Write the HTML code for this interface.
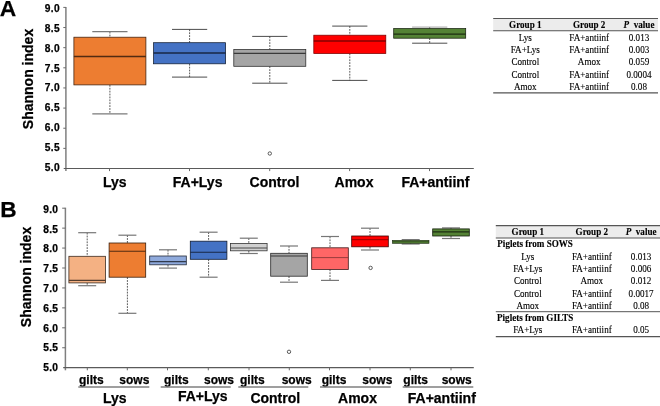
<!DOCTYPE html>
<html lang="en"><head><meta charset="utf-8"><title>Shannon index boxplots</title>
<style>
html,body{margin:0;padding:0;background:#fff;}
body{width:660px;height:406px;overflow:hidden;}
svg{display:block;}
text{white-space:pre;}
</style></head><body>
<svg width="660" height="406" viewBox="0 0 660 406">
<rect width="660" height="406" fill="#fff"/>
<line x1="65.9" y1="6.9" x2="65.9" y2="171.1" stroke="#7f7f7f" stroke-width="1.5"/>
<line x1="63.7" y1="168.5" x2="473.8" y2="168.5" stroke="#5a5a5a" stroke-width="1.2"/>
<line x1="63.3" y1="7.4" x2="65.9" y2="7.4" stroke="#6a6a6a" stroke-width="1"/>
<text x="59.9" y="11.9" font-family='"Liberation Sans", Arial, sans-serif' font-size="10.2" font-weight="bold" text-anchor="end" fill="#000" stroke="#000" stroke-width="0.25" letter-spacing="0.3">9.0</text>
<line x1="63.3" y1="27.54" x2="65.9" y2="27.54" stroke="#6a6a6a" stroke-width="1"/>
<text x="59.9" y="31.79" font-family='"Liberation Sans", Arial, sans-serif' font-size="10.2" font-weight="bold" text-anchor="end" fill="#000" stroke="#000" stroke-width="0.25" letter-spacing="0.3">8.5</text>
<line x1="63.3" y1="47.67" x2="65.9" y2="47.67" stroke="#6a6a6a" stroke-width="1"/>
<text x="59.9" y="51.69" font-family='"Liberation Sans", Arial, sans-serif' font-size="10.2" font-weight="bold" text-anchor="end" fill="#000" stroke="#000" stroke-width="0.25" letter-spacing="0.3">8.0</text>
<line x1="63.3" y1="67.81" x2="65.9" y2="67.81" stroke="#6a6a6a" stroke-width="1"/>
<text x="59.9" y="71.58" font-family='"Liberation Sans", Arial, sans-serif' font-size="10.2" font-weight="bold" text-anchor="end" fill="#000" stroke="#000" stroke-width="0.25" letter-spacing="0.3">7.5</text>
<line x1="63.3" y1="87.95" x2="65.9" y2="87.95" stroke="#6a6a6a" stroke-width="1"/>
<text x="59.9" y="91.47" font-family='"Liberation Sans", Arial, sans-serif' font-size="10.2" font-weight="bold" text-anchor="end" fill="#000" stroke="#000" stroke-width="0.25" letter-spacing="0.3">7.0</text>
<line x1="63.3" y1="108.09" x2="65.9" y2="108.09" stroke="#6a6a6a" stroke-width="1"/>
<text x="59.9" y="111.37" font-family='"Liberation Sans", Arial, sans-serif' font-size="10.2" font-weight="bold" text-anchor="end" fill="#000" stroke="#000" stroke-width="0.25" letter-spacing="0.3">6.5</text>
<line x1="63.3" y1="128.22" x2="65.9" y2="128.22" stroke="#6a6a6a" stroke-width="1"/>
<text x="59.9" y="131.26" font-family='"Liberation Sans", Arial, sans-serif' font-size="10.2" font-weight="bold" text-anchor="end" fill="#000" stroke="#000" stroke-width="0.25" letter-spacing="0.3">6.0</text>
<line x1="63.3" y1="148.36" x2="65.9" y2="148.36" stroke="#6a6a6a" stroke-width="1"/>
<text x="59.9" y="151.16" font-family='"Liberation Sans", Arial, sans-serif' font-size="10.2" font-weight="bold" text-anchor="end" fill="#000" stroke="#000" stroke-width="0.25" letter-spacing="0.3">5.5</text>
<text x="59.9" y="171.05" font-family='"Liberation Sans", Arial, sans-serif' font-size="10.2" font-weight="bold" text-anchor="end" fill="#000" stroke="#000" stroke-width="0.25" letter-spacing="0.3">5.0</text>
<line x1="109.5" y1="168.5" x2="109.5" y2="171.1" stroke="#6a6a6a" stroke-width="1"/>
<line x1="189.5" y1="168.5" x2="189.5" y2="171.1" stroke="#6a6a6a" stroke-width="1"/>
<line x1="269.7" y1="168.5" x2="269.7" y2="171.1" stroke="#6a6a6a" stroke-width="1"/>
<line x1="349.6" y1="168.5" x2="349.6" y2="171.1" stroke="#6a6a6a" stroke-width="1"/>
<line x1="429.5" y1="168.5" x2="429.5" y2="171.1" stroke="#6a6a6a" stroke-width="1"/>
<text x="-0.2" y="15.7" font-family='"Liberation Sans", Arial, sans-serif' font-size="22.8" font-weight="bold" text-anchor="start" fill="#000" stroke="#000" stroke-width="0.25">A</text>
<text transform="translate(33.3,79) rotate(-90)" font-family='"Liberation Sans", Arial, sans-serif' font-size="14" font-weight="bold" text-anchor="middle" stroke="#000" stroke-width="0.25">Shannon index</text>
<line x1="109.9" y1="31.7" x2="109.9" y2="37.2" stroke="#303030" stroke-width="0.8" stroke-dasharray="1.8,1.1"/>
<line x1="109.9" y1="84.9" x2="109.9" y2="113.8" stroke="#303030" stroke-width="0.8" stroke-dasharray="1.8,1.1"/>
<line x1="92.3" y1="31.7" x2="127.5" y2="31.7" stroke="#7a7a7a" stroke-width="1.2"/>
<line x1="92.3" y1="113.8" x2="127.5" y2="113.8" stroke="#7a7a7a" stroke-width="1.2"/>
<rect x="73.9" y="37.2" width="72" height="47.7" fill="#ED7D31" stroke="#3b1f0c" stroke-width="0.75"/>
<line x1="73.9" y1="56.5" x2="145.9" y2="56.5" stroke="#522b11" stroke-width="1.3"/>
<line x1="189.6" y1="29.4" x2="189.6" y2="42.7" stroke="#303030" stroke-width="0.8" stroke-dasharray="1.8,1.1"/>
<line x1="189.6" y1="63.8" x2="189.6" y2="77.1" stroke="#303030" stroke-width="0.8" stroke-dasharray="1.8,1.1"/>
<line x1="172" y1="29.4" x2="207.2" y2="29.4" stroke="#383838" stroke-width="0.9"/>
<line x1="172" y1="77.1" x2="207.2" y2="77.1" stroke="#383838" stroke-width="0.9"/>
<rect x="153.6" y="42.7" width="72" height="21.1" fill="#4472C4" stroke="#111c31" stroke-width="0.75"/>
<line x1="153.6" y1="53" x2="225.6" y2="53" stroke="#172744" stroke-width="1.3"/>
<line x1="269.8" y1="36.4" x2="269.8" y2="49.5" stroke="#303030" stroke-width="0.8" stroke-dasharray="1.8,1.1"/>
<line x1="269.8" y1="66.3" x2="269.8" y2="83.2" stroke="#303030" stroke-width="0.8" stroke-dasharray="1.8,1.1"/>
<line x1="252.2" y1="36.4" x2="287.4" y2="36.4" stroke="#383838" stroke-width="0.9"/>
<line x1="252.2" y1="83.2" x2="287.4" y2="83.2" stroke="#383838" stroke-width="0.9"/>
<rect x="233.8" y="49.5" width="72" height="16.8" fill="#A5A5A5" stroke="#292929" stroke-width="0.75"/>
<line x1="233.8" y1="53.3" x2="305.8" y2="53.3" stroke="#393939" stroke-width="1.3"/>
<circle cx="269.8" cy="153.5" r="1.7" fill="#fff" stroke="#333" stroke-width="0.8"/>
<line x1="349.8" y1="26.1" x2="349.8" y2="35.2" stroke="#303030" stroke-width="0.8" stroke-dasharray="1.8,1.1"/>
<line x1="349.8" y1="53.5" x2="349.8" y2="80.4" stroke="#303030" stroke-width="0.8" stroke-dasharray="1.8,1.1"/>
<line x1="332.2" y1="26.1" x2="367.4" y2="26.1" stroke="#383838" stroke-width="0.9"/>
<line x1="332.2" y1="80.4" x2="367.4" y2="80.4" stroke="#383838" stroke-width="0.9"/>
<rect x="313.8" y="35.2" width="72" height="18.3" fill="#FF0000" stroke="#7a0000" stroke-width="0.75"/>
<line x1="313.8" y1="41" x2="385.8" y2="41" stroke="#4a0000" stroke-width="1.0"/>
<line x1="429.7" y1="27.1" x2="429.7" y2="28.6" stroke="#303030" stroke-width="0.8" stroke-dasharray="1.8,1.1"/>
<line x1="429.7" y1="38.2" x2="429.7" y2="43.2" stroke="#303030" stroke-width="0.8" stroke-dasharray="1.8,1.1"/>
<line x1="412.1" y1="27.1" x2="447.3" y2="27.1" stroke="#999" stroke-width="0.9"/>
<line x1="412.1" y1="43.2" x2="447.3" y2="43.2" stroke="#383838" stroke-width="0.9"/>
<rect x="393.7" y="28.6" width="72" height="9.6" fill="#548235" stroke="#15200d" stroke-width="0.75"/>
<line x1="393.7" y1="34.2" x2="465.7" y2="34.2" stroke="#1d2d12" stroke-width="1.3"/>
<text x="114.8" y="187" font-family='"Liberation Sans", Arial, sans-serif' font-size="14" font-weight="bold" text-anchor="middle" fill="#000" stroke="#000" stroke-width="0.25">Lys</text>
<text x="197.6" y="187" font-family='"Liberation Sans", Arial, sans-serif' font-size="14" font-weight="bold" text-anchor="middle" fill="#000" stroke="#000" stroke-width="0.25">FA+Lys</text>
<text x="274.5" y="187" font-family='"Liberation Sans", Arial, sans-serif' font-size="14" font-weight="bold" text-anchor="middle" fill="#000" stroke="#000" stroke-width="0.25">Control</text>
<text x="354" y="187" font-family='"Liberation Sans", Arial, sans-serif' font-size="14" font-weight="bold" text-anchor="middle" fill="#000" stroke="#000" stroke-width="0.25">Amox</text>
<text x="435.5" y="187" font-family='"Liberation Sans", Arial, sans-serif' font-size="14" font-weight="bold" text-anchor="middle" fill="#000" stroke="#000" stroke-width="0.25">FA+antiinf</text>
<line x1="65.4" y1="207.7" x2="65.4" y2="370.3" stroke="#7f7f7f" stroke-width="1.5"/>
<line x1="63.2" y1="367.7" x2="473.8" y2="367.7" stroke="#5a5a5a" stroke-width="1.2"/>
<line x1="62.2" y1="208.2" x2="65.4" y2="208.2" stroke="#6a6a6a" stroke-width="1"/>
<text x="58.3" y="212.85" font-family='"Liberation Sans", Arial, sans-serif' font-size="10.2" font-weight="bold" text-anchor="end" fill="#000" stroke="#000" stroke-width="0.25" letter-spacing="0.3">9.0</text>
<line x1="62.2" y1="228.14" x2="65.4" y2="228.14" stroke="#6a6a6a" stroke-width="1"/>
<text x="58.3" y="232.63" font-family='"Liberation Sans", Arial, sans-serif' font-size="10.2" font-weight="bold" text-anchor="end" fill="#000" stroke="#000" stroke-width="0.25" letter-spacing="0.3">8.5</text>
<line x1="62.2" y1="248.07" x2="65.4" y2="248.07" stroke="#6a6a6a" stroke-width="1"/>
<text x="58.3" y="252.4" font-family='"Liberation Sans", Arial, sans-serif' font-size="10.2" font-weight="bold" text-anchor="end" fill="#000" stroke="#000" stroke-width="0.25" letter-spacing="0.3">8.0</text>
<line x1="62.2" y1="268.01" x2="65.4" y2="268.01" stroke="#6a6a6a" stroke-width="1"/>
<text x="58.3" y="272.18" font-family='"Liberation Sans", Arial, sans-serif' font-size="10.2" font-weight="bold" text-anchor="end" fill="#000" stroke="#000" stroke-width="0.25" letter-spacing="0.3">7.5</text>
<line x1="62.2" y1="287.95" x2="65.4" y2="287.95" stroke="#6a6a6a" stroke-width="1"/>
<text x="58.3" y="291.95" font-family='"Liberation Sans", Arial, sans-serif' font-size="10.2" font-weight="bold" text-anchor="end" fill="#000" stroke="#000" stroke-width="0.25" letter-spacing="0.3">7.0</text>
<line x1="62.2" y1="307.89" x2="65.4" y2="307.89" stroke="#6a6a6a" stroke-width="1"/>
<text x="58.3" y="311.73" font-family='"Liberation Sans", Arial, sans-serif' font-size="10.2" font-weight="bold" text-anchor="end" fill="#000" stroke="#000" stroke-width="0.25" letter-spacing="0.3">6.5</text>
<line x1="62.2" y1="327.82" x2="65.4" y2="327.82" stroke="#6a6a6a" stroke-width="1"/>
<text x="58.3" y="331.5" font-family='"Liberation Sans", Arial, sans-serif' font-size="10.2" font-weight="bold" text-anchor="end" fill="#000" stroke="#000" stroke-width="0.25" letter-spacing="0.3">6.0</text>
<line x1="62.2" y1="347.76" x2="65.4" y2="347.76" stroke="#6a6a6a" stroke-width="1"/>
<text x="58.3" y="351.28" font-family='"Liberation Sans", Arial, sans-serif' font-size="10.2" font-weight="bold" text-anchor="end" fill="#000" stroke="#000" stroke-width="0.25" letter-spacing="0.3">5.5</text>
<text x="58.3" y="371.05" font-family='"Liberation Sans", Arial, sans-serif' font-size="10.2" font-weight="bold" text-anchor="end" fill="#000" stroke="#000" stroke-width="0.25" letter-spacing="0.3">5.0</text>
<line x1="87.3" y1="367.7" x2="87.3" y2="370.3" stroke="#6a6a6a" stroke-width="1"/>
<line x1="127.3" y1="367.7" x2="127.3" y2="370.3" stroke="#6a6a6a" stroke-width="1"/>
<line x1="167.5" y1="367.7" x2="167.5" y2="370.3" stroke="#6a6a6a" stroke-width="1"/>
<line x1="208.3" y1="367.7" x2="208.3" y2="370.3" stroke="#6a6a6a" stroke-width="1"/>
<line x1="249" y1="367.7" x2="249" y2="370.3" stroke="#6a6a6a" stroke-width="1"/>
<line x1="289.3" y1="367.7" x2="289.3" y2="370.3" stroke="#6a6a6a" stroke-width="1"/>
<line x1="329.5" y1="367.7" x2="329.5" y2="370.3" stroke="#6a6a6a" stroke-width="1"/>
<line x1="370" y1="367.7" x2="370" y2="370.3" stroke="#6a6a6a" stroke-width="1"/>
<line x1="410.3" y1="367.7" x2="410.3" y2="370.3" stroke="#6a6a6a" stroke-width="1"/>
<line x1="451" y1="367.7" x2="451" y2="370.3" stroke="#6a6a6a" stroke-width="1"/>
<text x="0.2" y="216.5" font-family='"Liberation Sans", Arial, sans-serif' font-size="22.6" font-weight="bold" text-anchor="start" fill="#000" stroke="#000" stroke-width="0.25">B</text>
<text transform="translate(30.6,277) rotate(-90)" font-family='"Liberation Sans", Arial, sans-serif' font-size="14" font-weight="bold" text-anchor="middle" stroke="#000" stroke-width="0.25">Shannon index</text>
<line x1="87.2" y1="232.7" x2="87.2" y2="256.3" stroke="#303030" stroke-width="0.8" stroke-dasharray="1.8,1.1"/>
<line x1="87.2" y1="282.9" x2="87.2" y2="285.7" stroke="#303030" stroke-width="0.8" stroke-dasharray="1.8,1.1"/>
<line x1="78.2" y1="232.7" x2="96.2" y2="232.7" stroke="#777" stroke-width="1.2"/>
<line x1="78.2" y1="285.7" x2="96.2" y2="285.7" stroke="#777" stroke-width="1.2"/>
<rect x="68.9" y="256.3" width="36.6" height="26.6" fill="#F4B183" stroke="#3d2c20" stroke-width="0.8"/>
<line x1="68.9" y1="280.4" x2="105.5" y2="280.4" stroke="#553d2d" stroke-width="1.1"/>
<line x1="127.4" y1="235.2" x2="127.4" y2="243" stroke="#303030" stroke-width="0.8" stroke-dasharray="1.8,1.1"/>
<line x1="127.4" y1="277.2" x2="127.4" y2="313.3" stroke="#303030" stroke-width="0.8" stroke-dasharray="1.8,1.1"/>
<line x1="118.4" y1="235.2" x2="136.4" y2="235.2" stroke="#777" stroke-width="1.2"/>
<line x1="118.4" y1="313.3" x2="136.4" y2="313.3" stroke="#777" stroke-width="1.2"/>
<rect x="109.1" y="243" width="36.6" height="34.2" fill="#ED7D31" stroke="#3b1f0c" stroke-width="0.8"/>
<line x1="109.1" y1="251.3" x2="145.7" y2="251.3" stroke="#522b11" stroke-width="1.1"/>
<line x1="168" y1="249.8" x2="168" y2="256" stroke="#303030" stroke-width="0.8" stroke-dasharray="1.8,1.1"/>
<line x1="168" y1="264.8" x2="168" y2="268.1" stroke="#303030" stroke-width="0.8" stroke-dasharray="1.8,1.1"/>
<line x1="159" y1="249.8" x2="177" y2="249.8" stroke="#777" stroke-width="1.2"/>
<line x1="159" y1="268.1" x2="177" y2="268.1" stroke="#777" stroke-width="1.2"/>
<rect x="149.7" y="256" width="36.6" height="8.8" fill="#8FAADC" stroke="#232a37" stroke-width="0.8"/>
<line x1="149.7" y1="261.6" x2="186.3" y2="261.6" stroke="#323b4d" stroke-width="1.1"/>
<line x1="208.6" y1="232.2" x2="208.6" y2="241.2" stroke="#303030" stroke-width="0.8" stroke-dasharray="1.8,1.1"/>
<line x1="208.6" y1="259.3" x2="208.6" y2="277.2" stroke="#303030" stroke-width="0.8" stroke-dasharray="1.8,1.1"/>
<line x1="199.6" y1="232.2" x2="217.6" y2="232.2" stroke="#777" stroke-width="1.2"/>
<line x1="199.6" y1="277.2" x2="217.6" y2="277.2" stroke="#777" stroke-width="1.2"/>
<rect x="190.3" y="241.2" width="36.6" height="18.1" fill="#4472C4" stroke="#111c31" stroke-width="0.8"/>
<line x1="190.3" y1="252.3" x2="226.9" y2="252.3" stroke="#172744" stroke-width="1.1"/>
<line x1="248.8" y1="238.2" x2="248.8" y2="243.5" stroke="#303030" stroke-width="0.8" stroke-dasharray="1.8,1.1"/>
<line x1="248.8" y1="250.8" x2="248.8" y2="253.5" stroke="#303030" stroke-width="0.8" stroke-dasharray="1.8,1.1"/>
<line x1="239.8" y1="238.2" x2="257.8" y2="238.2" stroke="#777" stroke-width="1.2"/>
<line x1="239.8" y1="253.5" x2="257.8" y2="253.5" stroke="#777" stroke-width="1.2"/>
<rect x="230.5" y="243.5" width="36.6" height="7.3" fill="#D0D0D0" stroke="#343434" stroke-width="0.8"/>
<line x1="230.5" y1="248" x2="267.1" y2="248" stroke="#484848" stroke-width="1.1"/>
<line x1="289" y1="246" x2="289" y2="253.3" stroke="#303030" stroke-width="0.8" stroke-dasharray="1.8,1.1"/>
<line x1="289" y1="276.2" x2="289" y2="282.2" stroke="#303030" stroke-width="0.8" stroke-dasharray="1.8,1.1"/>
<line x1="280" y1="246" x2="298" y2="246" stroke="#777" stroke-width="1.2"/>
<line x1="280" y1="282.2" x2="298" y2="282.2" stroke="#777" stroke-width="1.2"/>
<rect x="270.7" y="253.3" width="36.6" height="22.9" fill="#A5A5A5" stroke="#292929" stroke-width="0.8"/>
<line x1="270.7" y1="256" x2="307.3" y2="256" stroke="#393939" stroke-width="1.1"/>
<line x1="330" y1="236.5" x2="330" y2="247.8" stroke="#303030" stroke-width="0.8" stroke-dasharray="1.8,1.1"/>
<line x1="330" y1="269.4" x2="330" y2="280.4" stroke="#303030" stroke-width="0.8" stroke-dasharray="1.8,1.1"/>
<line x1="321" y1="236.5" x2="339" y2="236.5" stroke="#777" stroke-width="1.2"/>
<line x1="321" y1="280.4" x2="339" y2="280.4" stroke="#777" stroke-width="1.2"/>
<rect x="311.7" y="247.8" width="36.6" height="21.6" fill="#FF6666" stroke="#3f1919" stroke-width="0.8"/>
<line x1="311.7" y1="257.6" x2="348.3" y2="257.6" stroke="#8c3838" stroke-width="0.9"/>
<line x1="370" y1="228.2" x2="370" y2="236" stroke="#303030" stroke-width="0.8" stroke-dasharray="1.8,1.1"/>
<line x1="370" y1="246.8" x2="370" y2="250" stroke="#303030" stroke-width="0.8" stroke-dasharray="1.8,1.1"/>
<line x1="361" y1="228.2" x2="379" y2="228.2" stroke="#777" stroke-width="1.2"/>
<line x1="361" y1="250" x2="379" y2="250" stroke="#777" stroke-width="1.2"/>
<rect x="351.7" y="236" width="36.6" height="10.8" fill="#FF0000" stroke="#3f0000" stroke-width="0.8"/>
<line x1="351.7" y1="239.7" x2="388.3" y2="239.7" stroke="#8c0000" stroke-width="0.9"/>
<line x1="410.7" y1="239.6" x2="410.7" y2="240.3" stroke="#303030" stroke-width="0.8" stroke-dasharray="1.8,1.1"/>
<line x1="410.7" y1="243.4" x2="410.7" y2="244" stroke="#303030" stroke-width="0.8" stroke-dasharray="1.8,1.1"/>
<line x1="401.7" y1="239.6" x2="419.7" y2="239.6" stroke="#777" stroke-width="1.2"/>
<line x1="401.7" y1="244" x2="419.7" y2="244" stroke="#777" stroke-width="1.2"/>
<rect x="392.4" y="240.3" width="36.6" height="3.1" fill="#548235" stroke="#15200d" stroke-width="0.55"/>
<line x1="392.4" y1="241.8" x2="429" y2="241.8" stroke="#1d2d12" stroke-width="0.6"/>
<line x1="451" y1="227.9" x2="451" y2="228.9" stroke="#303030" stroke-width="0.8" stroke-dasharray="1.8,1.1"/>
<line x1="451" y1="236" x2="451" y2="238.5" stroke="#303030" stroke-width="0.8" stroke-dasharray="1.8,1.1"/>
<line x1="442" y1="227.9" x2="460" y2="227.9" stroke="#777" stroke-width="1.2"/>
<line x1="442" y1="238.5" x2="460" y2="238.5" stroke="#777" stroke-width="1.2"/>
<rect x="432.7" y="228.9" width="36.6" height="7.1" fill="#548235" stroke="#15200d" stroke-width="0.8"/>
<line x1="432.7" y1="231.9" x2="469.3" y2="231.9" stroke="#1d2d12" stroke-width="1.1"/>
<circle cx="289" cy="351.8" r="1.7" fill="#fff" stroke="#333" stroke-width="0.8"/>
<circle cx="370.6" cy="267.9" r="1.7" fill="#fff" stroke="#333" stroke-width="0.8"/>
<text x="79" y="384" font-family='"Liberation Sans", Arial, sans-serif' font-size="12" font-weight="bold" text-anchor="start" fill="#000" stroke="#000" stroke-width="0.25">gilts</text>
<text x="119.3" y="384" font-family='"Liberation Sans", Arial, sans-serif' font-size="12" font-weight="bold" text-anchor="start" fill="#000" stroke="#000" stroke-width="0.25">sows</text>
<line x1="78.3" y1="387" x2="149.3" y2="387" stroke="#7f7f7f" stroke-width="1.5"/>
<text x="114.7" y="403" font-family='"Liberation Sans", Arial, sans-serif' font-size="14" font-weight="bold" text-anchor="middle" fill="#000" stroke="#000" stroke-width="0.25">Lys</text>
<text x="164" y="384" font-family='"Liberation Sans", Arial, sans-serif' font-size="12" font-weight="bold" text-anchor="start" fill="#000" stroke="#000" stroke-width="0.25">gilts</text>
<text x="204" y="384" font-family='"Liberation Sans", Arial, sans-serif' font-size="12" font-weight="bold" text-anchor="start" fill="#000" stroke="#000" stroke-width="0.25">sows</text>
<line x1="160.7" y1="387" x2="230.7" y2="387" stroke="#7f7f7f" stroke-width="1.5"/>
<text x="202.8" y="401.2" font-family='"Liberation Sans", Arial, sans-serif' font-size="14" font-weight="bold" text-anchor="middle" fill="#000" stroke="#000" stroke-width="0.25">FA+Lys</text>
<text x="240" y="384" font-family='"Liberation Sans", Arial, sans-serif' font-size="12" font-weight="bold" text-anchor="start" fill="#000" stroke="#000" stroke-width="0.25">gilts</text>
<text x="281.7" y="384" font-family='"Liberation Sans", Arial, sans-serif' font-size="12" font-weight="bold" text-anchor="start" fill="#000" stroke="#000" stroke-width="0.25">sows</text>
<line x1="238.3" y1="387" x2="308.3" y2="387" stroke="#7f7f7f" stroke-width="1.5"/>
<text x="275.3" y="403" font-family='"Liberation Sans", Arial, sans-serif' font-size="14" font-weight="bold" text-anchor="middle" fill="#000" stroke="#000" stroke-width="0.25">Control</text>
<text x="321.7" y="384" font-family='"Liberation Sans", Arial, sans-serif' font-size="12" font-weight="bold" text-anchor="start" fill="#000" stroke="#000" stroke-width="0.25">gilts</text>
<text x="362.3" y="384" font-family='"Liberation Sans", Arial, sans-serif' font-size="12" font-weight="bold" text-anchor="start" fill="#000" stroke="#000" stroke-width="0.25">sows</text>
<line x1="320" y1="387" x2="390.7" y2="387" stroke="#7f7f7f" stroke-width="1.5"/>
<text x="357.5" y="403" font-family='"Liberation Sans", Arial, sans-serif' font-size="14" font-weight="bold" text-anchor="middle" fill="#000" stroke="#000" stroke-width="0.25">Amox</text>
<text x="403.3" y="384" font-family='"Liberation Sans", Arial, sans-serif' font-size="12" font-weight="bold" text-anchor="start" fill="#000" stroke="#000" stroke-width="0.25">gilts</text>
<text x="441.7" y="384" font-family='"Liberation Sans", Arial, sans-serif' font-size="12" font-weight="bold" text-anchor="start" fill="#000" stroke="#000" stroke-width="0.25">sows</text>
<line x1="402.7" y1="387" x2="473.3" y2="387" stroke="#7f7f7f" stroke-width="1.5"/>
<text x="441.8" y="403" font-family='"Liberation Sans", Arial, sans-serif' font-size="14" font-weight="bold" text-anchor="middle" fill="#000" stroke="#000" stroke-width="0.25">FA+antiinf</text>
<rect x="493.2" y="18.5" width="164.8" height="12.3" fill="#ececec"/>
<line x1="493.2" y1="18.5" x2="658" y2="18.5" stroke="#555" stroke-width="1.2"/>
<line x1="493.2" y1="30.8" x2="658" y2="30.8" stroke="#555" stroke-width="1.1"/>
<line x1="493.2" y1="92.8" x2="658" y2="92.8" stroke="#555" stroke-width="1.2"/>
<text transform="translate(525.3,28) scale(0.92,1)" font-family='"Liberation Serif", "Times New Roman", serif' font-size="9.9" font-weight="bold" text-anchor="middle" fill="#000" stroke="#000" stroke-width="0.12">Group 1</text>
<text transform="translate(589.2,28) scale(0.92,1)" font-family='"Liberation Serif", "Times New Roman", serif' font-size="9.9" font-weight="bold" text-anchor="middle" fill="#000" stroke="#000" stroke-width="0.12">Group 2</text>
<text transform="translate(639,28) scale(0.92,1)" font-family='"Liberation Serif", "Times New Roman", serif' font-size="9.9" font-weight="bold" text-anchor="middle" fill="#000" stroke="#000" stroke-width="0.12"><tspan font-style="italic">P</tspan>  value</text>
<text transform="translate(525.3,40.6) scale(0.92,1)" font-family='"Liberation Serif", "Times New Roman", serif' font-size="9.9" font-weight="normal" text-anchor="middle" fill="#000" stroke="#000" stroke-width="0.12">Lys</text>
<text transform="translate(589.2,40.6) scale(0.92,1)" font-family='"Liberation Serif", "Times New Roman", serif' font-size="9.9" font-weight="normal" text-anchor="middle" fill="#000" stroke="#000" stroke-width="0.12">FA+antiinf</text>
<text transform="translate(639,40.6) scale(0.92,1)" font-family='"Liberation Serif", "Times New Roman", serif' font-size="9.9" font-weight="normal" text-anchor="middle" fill="#000" stroke="#000" stroke-width="0.12">0.013</text>
<text transform="translate(525.3,52.9) scale(0.92,1)" font-family='"Liberation Serif", "Times New Roman", serif' font-size="9.9" font-weight="normal" text-anchor="middle" fill="#000" stroke="#000" stroke-width="0.12">FA+Lys</text>
<text transform="translate(589.2,52.9) scale(0.92,1)" font-family='"Liberation Serif", "Times New Roman", serif' font-size="9.9" font-weight="normal" text-anchor="middle" fill="#000" stroke="#000" stroke-width="0.12">FA+antiinf</text>
<text transform="translate(639,52.9) scale(0.92,1)" font-family='"Liberation Serif", "Times New Roman", serif' font-size="9.9" font-weight="normal" text-anchor="middle" fill="#000" stroke="#000" stroke-width="0.12">0.003</text>
<text transform="translate(525.3,65.2) scale(0.92,1)" font-family='"Liberation Serif", "Times New Roman", serif' font-size="9.9" font-weight="normal" text-anchor="middle" fill="#000" stroke="#000" stroke-width="0.12">Control</text>
<text transform="translate(589.2,65.2) scale(0.92,1)" font-family='"Liberation Serif", "Times New Roman", serif' font-size="9.9" font-weight="normal" text-anchor="middle" fill="#000" stroke="#000" stroke-width="0.12">Amox</text>
<text transform="translate(639,65.2) scale(0.92,1)" font-family='"Liberation Serif", "Times New Roman", serif' font-size="9.9" font-weight="normal" text-anchor="middle" fill="#000" stroke="#000" stroke-width="0.12">0.059</text>
<text transform="translate(525.3,77.5) scale(0.92,1)" font-family='"Liberation Serif", "Times New Roman", serif' font-size="9.9" font-weight="normal" text-anchor="middle" fill="#000" stroke="#000" stroke-width="0.12">Control</text>
<text transform="translate(589.2,77.5) scale(0.92,1)" font-family='"Liberation Serif", "Times New Roman", serif' font-size="9.9" font-weight="normal" text-anchor="middle" fill="#000" stroke="#000" stroke-width="0.12">FA+antiinf</text>
<text transform="translate(639,77.5) scale(0.92,1)" font-family='"Liberation Serif", "Times New Roman", serif' font-size="9.9" font-weight="normal" text-anchor="middle" fill="#000" stroke="#000" stroke-width="0.12">0.0004</text>
<text transform="translate(525.3,89.8) scale(0.92,1)" font-family='"Liberation Serif", "Times New Roman", serif' font-size="9.9" font-weight="normal" text-anchor="middle" fill="#000" stroke="#000" stroke-width="0.12">Amox</text>
<text transform="translate(589.2,89.8) scale(0.92,1)" font-family='"Liberation Serif", "Times New Roman", serif' font-size="9.9" font-weight="normal" text-anchor="middle" fill="#000" stroke="#000" stroke-width="0.12">FA+antiinf</text>
<text transform="translate(639,89.8) scale(0.92,1)" font-family='"Liberation Serif", "Times New Roman", serif' font-size="9.9" font-weight="normal" text-anchor="middle" fill="#000" stroke="#000" stroke-width="0.12">0.08</text>
<rect x="495.8" y="225.6" width="164.2" height="12.3" fill="#ececec"/>
<line x1="495.8" y1="225.6" x2="660" y2="225.6" stroke="#555" stroke-width="1.2"/>
<line x1="495.8" y1="238" x2="660" y2="238" stroke="#555" stroke-width="1.1"/>
<line x1="495.8" y1="311.7" x2="660" y2="311.7" stroke="#555" stroke-width="1.0"/>
<line x1="495.8" y1="336.7" x2="660" y2="336.7" stroke="#555" stroke-width="1.2"/>
<text transform="translate(527.8,234.6) scale(0.92,1)" font-family='"Liberation Serif", "Times New Roman", serif' font-size="9.9" font-weight="bold" text-anchor="middle" fill="#000" stroke="#000" stroke-width="0.12">Group 1</text>
<text transform="translate(591.8,234.6) scale(0.92,1)" font-family='"Liberation Serif", "Times New Roman", serif' font-size="9.9" font-weight="bold" text-anchor="middle" fill="#000" stroke="#000" stroke-width="0.12">Group 2</text>
<text transform="translate(641.1,234.6) scale(0.92,1)" font-family='"Liberation Serif", "Times New Roman", serif' font-size="9.9" font-weight="bold" text-anchor="middle" fill="#000" stroke="#000" stroke-width="0.12"><tspan font-style="italic">P</tspan>  value</text>
<text transform="translate(497.3,247.2) scale(0.92,1)" font-family='"Liberation Serif", "Times New Roman", serif' font-size="9.9" font-weight="bold" text-anchor="start" fill="#000" stroke="#000" stroke-width="0.12">Piglets from SOWS</text>
<text transform="translate(527.8,259.6) scale(0.92,1)" font-family='"Liberation Serif", "Times New Roman", serif' font-size="9.9" font-weight="normal" text-anchor="middle" fill="#000" stroke="#000" stroke-width="0.12">Lys</text>
<text transform="translate(591.8,259.6) scale(0.92,1)" font-family='"Liberation Serif", "Times New Roman", serif' font-size="9.9" font-weight="normal" text-anchor="middle" fill="#000" stroke="#000" stroke-width="0.12">FA+antiinf</text>
<text transform="translate(641.1,259.6) scale(0.92,1)" font-family='"Liberation Serif", "Times New Roman", serif' font-size="9.9" font-weight="normal" text-anchor="middle" fill="#000" stroke="#000" stroke-width="0.12">0.013</text>
<text transform="translate(527.8,271.9) scale(0.92,1)" font-family='"Liberation Serif", "Times New Roman", serif' font-size="9.9" font-weight="normal" text-anchor="middle" fill="#000" stroke="#000" stroke-width="0.12">FA+Lys</text>
<text transform="translate(591.8,271.9) scale(0.92,1)" font-family='"Liberation Serif", "Times New Roman", serif' font-size="9.9" font-weight="normal" text-anchor="middle" fill="#000" stroke="#000" stroke-width="0.12">FA+antiinf</text>
<text transform="translate(641.1,271.9) scale(0.92,1)" font-family='"Liberation Serif", "Times New Roman", serif' font-size="9.9" font-weight="normal" text-anchor="middle" fill="#000" stroke="#000" stroke-width="0.12">0.006</text>
<text transform="translate(527.8,284.2) scale(0.92,1)" font-family='"Liberation Serif", "Times New Roman", serif' font-size="9.9" font-weight="normal" text-anchor="middle" fill="#000" stroke="#000" stroke-width="0.12">Control</text>
<text transform="translate(591.8,284.2) scale(0.92,1)" font-family='"Liberation Serif", "Times New Roman", serif' font-size="9.9" font-weight="normal" text-anchor="middle" fill="#000" stroke="#000" stroke-width="0.12">Amox</text>
<text transform="translate(641.1,284.2) scale(0.92,1)" font-family='"Liberation Serif", "Times New Roman", serif' font-size="9.9" font-weight="normal" text-anchor="middle" fill="#000" stroke="#000" stroke-width="0.12">0.012</text>
<text transform="translate(527.8,296.5) scale(0.92,1)" font-family='"Liberation Serif", "Times New Roman", serif' font-size="9.9" font-weight="normal" text-anchor="middle" fill="#000" stroke="#000" stroke-width="0.12">Control</text>
<text transform="translate(591.8,296.5) scale(0.92,1)" font-family='"Liberation Serif", "Times New Roman", serif' font-size="9.9" font-weight="normal" text-anchor="middle" fill="#000" stroke="#000" stroke-width="0.12">FA+antiinf</text>
<text transform="translate(641.1,296.5) scale(0.92,1)" font-family='"Liberation Serif", "Times New Roman", serif' font-size="9.9" font-weight="normal" text-anchor="middle" fill="#000" stroke="#000" stroke-width="0.12">0.0017</text>
<text transform="translate(527.8,308.8) scale(0.92,1)" font-family='"Liberation Serif", "Times New Roman", serif' font-size="9.9" font-weight="normal" text-anchor="middle" fill="#000" stroke="#000" stroke-width="0.12">Amox</text>
<text transform="translate(591.8,308.8) scale(0.92,1)" font-family='"Liberation Serif", "Times New Roman", serif' font-size="9.9" font-weight="normal" text-anchor="middle" fill="#000" stroke="#000" stroke-width="0.12">FA+antiinf</text>
<text transform="translate(641.1,308.8) scale(0.92,1)" font-family='"Liberation Serif", "Times New Roman", serif' font-size="9.9" font-weight="normal" text-anchor="middle" fill="#000" stroke="#000" stroke-width="0.12">0.08</text>
<text transform="translate(497,321.1) scale(0.92,1)" font-family='"Liberation Serif", "Times New Roman", serif' font-size="9.9" font-weight="bold" text-anchor="start" fill="#000" stroke="#000" stroke-width="0.12">Piglets from GILTS</text>
<text transform="translate(527.8,333.3) scale(0.92,1)" font-family='"Liberation Serif", "Times New Roman", serif' font-size="9.9" font-weight="normal" text-anchor="middle" fill="#000" stroke="#000" stroke-width="0.12">FA+Lys</text>
<text transform="translate(591.8,333.3) scale(0.92,1)" font-family='"Liberation Serif", "Times New Roman", serif' font-size="9.9" font-weight="normal" text-anchor="middle" fill="#000" stroke="#000" stroke-width="0.12">FA+antiinf</text>
<text transform="translate(641.1,333.3) scale(0.92,1)" font-family='"Liberation Serif", "Times New Roman", serif' font-size="9.9" font-weight="normal" text-anchor="middle" fill="#000" stroke="#000" stroke-width="0.12">0.05</text>
</svg>
</body></html>
